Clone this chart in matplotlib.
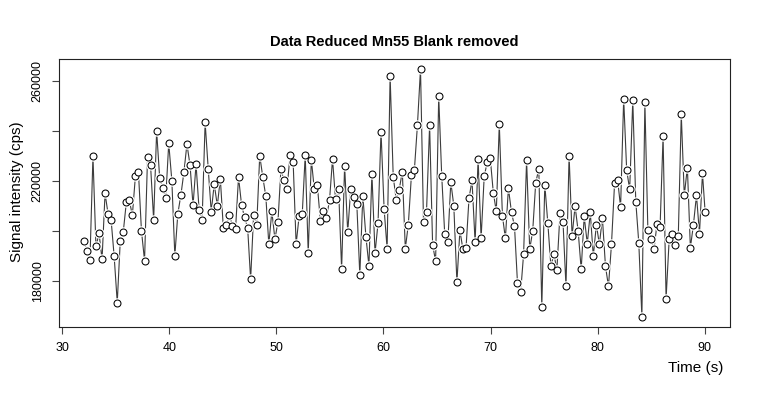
import matplotlib
matplotlib.use("Agg")
import matplotlib.pyplot as plt

plt.rcParams['font.family'] = ['Liberation Sans', 'DejaVu Sans']

# acquisition times (s)
time_s = [
    32.01, 32.29, 32.58, 32.86, 33.14, 33.43, 33.71, 33.99, 34.28, 34.56,
    34.84, 35.13, 35.41, 35.69, 35.98, 36.26, 36.54, 36.83, 37.11, 37.39,
    37.68, 37.96, 38.24, 38.53, 38.81, 39.09, 39.38, 39.66, 39.94, 40.23,
    40.51, 40.79, 41.08, 41.36, 41.64, 41.93, 42.21, 42.49, 42.78, 43.06,
    43.34, 43.63, 43.91, 44.19, 44.48, 44.76, 45.04, 45.33, 45.61, 45.89,
    46.18, 46.46, 46.74, 47.02, 47.31, 47.59, 47.87, 48.16, 48.44, 48.72,
    49.01, 49.29, 49.57, 49.86, 50.14, 50.42, 50.71, 50.99, 51.27, 51.56,
    51.84, 52.12, 52.41, 52.69, 52.97, 53.26, 53.54, 53.82, 54.11, 54.39,
    54.67, 54.96, 55.24, 55.52, 55.81, 56.09, 56.37, 56.66, 56.94, 57.22,
    57.51, 57.79, 58.07, 58.36, 58.64, 58.92, 59.21, 59.49, 59.77, 60.06,
    60.34, 60.62, 60.91, 61.19, 61.47, 61.76, 62.04, 62.32, 62.61, 62.89,
    63.17, 63.46, 63.74, 64.02, 64.31, 64.59, 64.87, 65.16, 65.44, 65.72,
    66.01, 66.29, 66.57, 66.86, 67.14, 67.42, 67.71, 67.99, 68.27, 68.56,
    68.84, 69.12, 69.41, 69.69, 69.97, 70.26, 70.54, 70.82, 71.11, 71.39,
    71.67, 71.96, 72.24, 72.52, 72.81, 73.09, 73.37, 73.66, 73.94, 74.22,
    74.51, 74.79, 75.07, 75.35, 75.64, 75.92, 76.20, 76.49, 76.77, 77.05,
    77.34, 77.62, 77.90, 78.19, 78.47, 78.75, 79.04, 79.32, 79.60, 79.89,
    80.17, 80.45, 80.74, 81.02, 81.30, 81.59, 81.87, 82.15, 82.44, 82.72,
    83.00, 83.29, 83.57, 83.85, 84.14, 84.42, 84.70, 84.99, 85.27, 85.55,
    85.84, 86.12, 86.40, 86.69, 86.97, 87.25, 87.54, 87.82, 88.10, 88.39,
    88.67, 88.95, 89.24, 89.52, 89.80, 90.05,
]

# Mn55 signal, blank removed (cps)
signal_cps = [
    196200, 192200, 188400, 229900, 193900, 199100, 188700, 215100, 206700, 204300,
    190000, 171500, 196000, 199600, 211600, 212300, 206300, 222200, 223600, 200200,
    188200, 229600, 226300, 204600, 240000, 221400, 217100, 213100, 235100, 220200,
    190200, 207000, 214600, 223600, 234800, 226300, 210300, 226700, 208300, 204600,
    243400, 224800, 207800, 218800, 210200, 221000, 201200, 202600, 206400, 202200,
    200800, 221600, 210600, 205500, 201400, 180700, 206600, 202400, 230200, 221800,
    213900, 194800, 207900, 196800, 203600, 224800, 220300, 216800, 230300, 227800,
    194800, 206000, 206700, 230400, 191200, 228600, 216700, 218400, 204000, 207900,
    205400, 212300, 228800, 212700, 216800, 184800, 226200, 199600, 216800, 213500,
    210800, 182400, 214200, 197800, 186200, 223000, 191200, 203100, 239800, 208800,
    193000, 262000, 221800, 212600, 216600, 223800, 193000, 202600, 222300, 224600,
    242200, 264800, 203500, 207800, 242200, 194600, 188000, 253900, 222200, 199000,
    195500, 219600, 210200, 179600, 200300, 192800, 193100, 213100, 220300, 195500,
    228800, 197200, 221900, 227500, 229400, 215400, 207900, 242800, 206200, 197100,
    217200, 207500, 202000, 179200, 175500, 190800, 228300, 192800, 200000, 219200,
    225000, 169600, 218600, 203400, 186000, 190800, 184600, 207100, 203800, 177900,
    230200, 198000, 210000, 199900, 184700, 205900, 195000, 207500, 190000, 202600,
    194700, 205400, 185900, 178000, 194800, 219200, 220600, 209600, 252800, 224300,
    216700, 252200, 211800, 195400, 165800, 251400, 200400, 197000, 192700, 202800,
    201800, 237900, 173100, 196700, 199000, 194400, 197900, 246600, 214300, 225400,
    193400, 202400, 214300, 199000, 223100, 207500,
]

x_ticks = [30, 40, 50, 60, 70, 80, 90]
y_ticks = [180000, 200000, 220000, 240000, 260000]
y_tick_labels = ['180000', '', '220000', '', '260000']

fig = plt.figure(figsize=(7.6, 4.0), dpi=100)
ax = fig.add_axes([59 / 760, 1 - 326.7 / 400, (730 - 59) / 760, (326.7 - 59) / 400])

# R type="b": line with small gaps around the open circles
ax.plot(time_s, signal_cps, color='#3c3c3c', linewidth=0.8, zorder=2)
ax.plot(time_s, signal_cps, linestyle='none', marker='o', markersize=7.5,
        markerfacecolor='white', markeredgecolor='none', zorder=3)
ax.plot(time_s, signal_cps, linestyle='none', marker='o', markersize=5.0,
        markerfacecolor='white', markeredgecolor='black', markeredgewidth=0.75, zorder=4)

span = max(time_s) - min(time_s)
ax.set_xlim(min(time_s) - 0.04 * span, max(time_s) + 0.04 * span)
yspan = max(signal_cps) - min(signal_cps)
ax.set_ylim(min(signal_cps) - 0.04 * yspan, max(signal_cps) + 0.04 * yspan)

ax.set_xticks(x_ticks)
ax.set_xticklabels([str(t) for t in x_ticks], fontsize=9)
ax.set_yticks(y_ticks)
ax.set_yticklabels(y_tick_labels, fontsize=9, rotation=90, va='center')

ax.tick_params(axis='both', direction='out', length=5, width=0.8, color='#444444')
ax.tick_params(axis='x', pad=6)
ax.tick_params(axis='y', pad=6)
for sp in ax.spines.values():
    sp.set_linewidth(0.8)
    sp.set_color('#222222')

fig.text(394.5 / 760, 1 - 42 / 400, 'Data Reduced Mn55 Blank removed',
         ha='center', va='center', fontsize=10.5, fontweight='bold')
fig.text(723 / 760, 1 - 368 / 400, 'Time (s)', ha='right', va='center', fontsize=11)
fig.text(17 / 760, 1 - 192 / 400, 'Signal intensity (cps)', ha='center', va='center',
         rotation=90, fontsize=11)

fig.savefig('out.png', dpi=100)
